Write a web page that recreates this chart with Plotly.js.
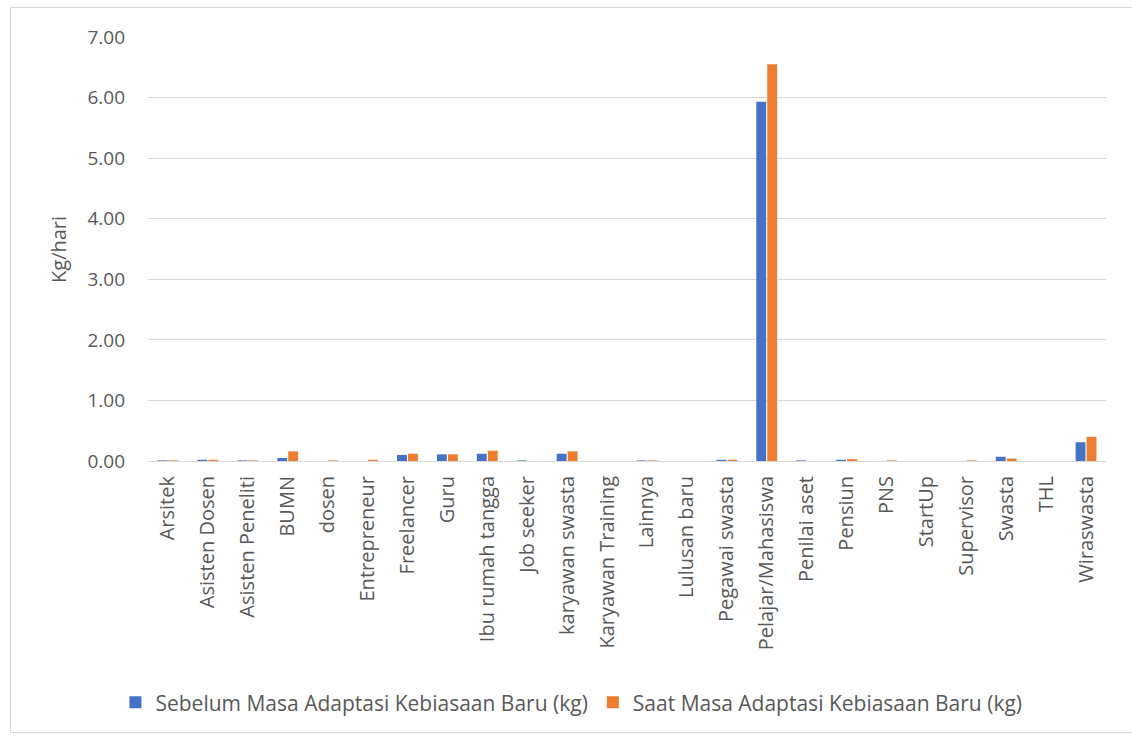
<!DOCTYPE html>
<html>
<head>
<meta charset="utf-8">
<script src="https://cdn.plot.ly/plotly-3.0.1.min.js"></script>
<style>
  html, body { margin: 0; padding: 0; background: #ffffff; }
  #frame { position: absolute; left: 10px; top: 7px; width: 1130px; height: 726px; border: 1px solid #d9d9d9; box-sizing: border-box; }
  #chart { position: absolute; left: 0; top: 0; width: 1132px; height: 736px; }
</style>
</head>
<body>
<div id="frame"></div>
<div id="chart"></div>
<script>
// Occupation categories (x axis)
const categories = [
  "Arsitek", "Asisten Dosen", "Asisten Peneliti", "BUMN", "dosen", "Entrepreneur",
  "Freelancer", "Guru", "Ibu rumah tangga", "Job seeker", "karyawan swasta",
  "Karyawan Training", "Lainnya", "Lulusan baru", "Pegawai swasta", "Pelajar/Mahasiswa",
  "Penilai aset", "Pensiun", "PNS", "StartUp", "Supervisor", "Swasta", "THL", "Wiraswasta"
];

// Waste per day (kg/hari) before and during the new-habits adaptation period
const sebelum = [
  0.01, 0.02, 0.01, 0.05, 0.00, 0.00,
  0.10, 0.11, 0.12, 0.01, 0.12,
  0.00, 0.01, 0.00, 0.02, 5.93,
  0.01, 0.02, 0.00, 0.00, 0.00, 0.07, 0.00, 0.31
];
const saat = [
  0.01, 0.02, 0.01, 0.16, 0.01, 0.02,
  0.12, 0.11, 0.17, 0.00, 0.16,
  0.00, 0.01, 0.00, 0.02, 6.55,
  0.00, 0.03, 0.01, 0.00, 0.01, 0.04, 0.00, 0.40
];

const yTicks = [0, 1, 2, 3, 4, 5, 6, 7];
const yTickText = ["0.00", "1.00", "2.00", "3.00", "4.00", "5.00", "6.00", "7.00"];

const seriesNames = [
  "Sebelum Masa Adaptasi Kebiasaan Baru (kg)",
  "Saat Masa Adaptasi Kebiasaan Baru (kg)"
];
const yTitle = "Kg/hari";

const font = "Open Sans, Liberation Sans, sans-serif";

const traces = [
  { type: "bar", name: seriesNames[0], x: categories, y: sebelum, marker: { color: "#4472C4" } },
  { type: "bar", name: seriesNames[1], x: categories, y: saat, marker: { color: "#ED7D31" } }
];

const layout = {
  width: 1132,
  height: 736,
  paper_bgcolor: "rgba(0,0,0,0)",
  plot_bgcolor: "rgba(0,0,0,0)",
  margin: { l: 148, r: 26, t: 37, b: 275 },
  barmode: "group",
  bargap: 0.45,
  bargroupgap: 0.1,
  font: { family: font, color: "#595959", size: 16 },
  xaxis: {
    type: "category",
    tickangle: -90,
    tickfont: { size: 20, color: "#595959" },
    showgrid: false,
    showline: true,
    linecolor: "#d9d9d9",
    linewidth: 1,
    ticks: "",
    ticklabelstandoff: 6,
    automargin: false
  },
  yaxis: {
    range: [0, 7],
    tickvals: yTicks,
    ticktext: yTickText,
    tickfont: { size: 19, color: "#595959" },
    showgrid: true,
    gridcolor: "#d9d9d9",
    gridwidth: 1,
    zeroline: false,
    showline: false,
    ticks: "",
    ticklabelstandoff: 22,
    automargin: false
  },
  // vertical axis title placed as a rotated annotation left of the tick labels
  annotations: [{
    text: yTitle,
    xref: "paper", yref: "paper",
    x: -0.094, y: 0.5,
    xanchor: "center", yanchor: "middle",
    textangle: -90,
    showarrow: false,
    font: { size: 20, color: "#595959" }
  }],
  legend: {
    orientation: "h",
    x: 0.442,
    xanchor: "center",
    y: -0.57,
    yanchor: "middle",
    font: { size: 21, color: "#595959" },
    itemwidth: 30,
    traceorder: "normal"
  },
  showlegend: true
};

Plotly.newPlot("chart", traces, layout, { displayModeBar: false, staticPlot: true });
</script>
</body>
</html>
